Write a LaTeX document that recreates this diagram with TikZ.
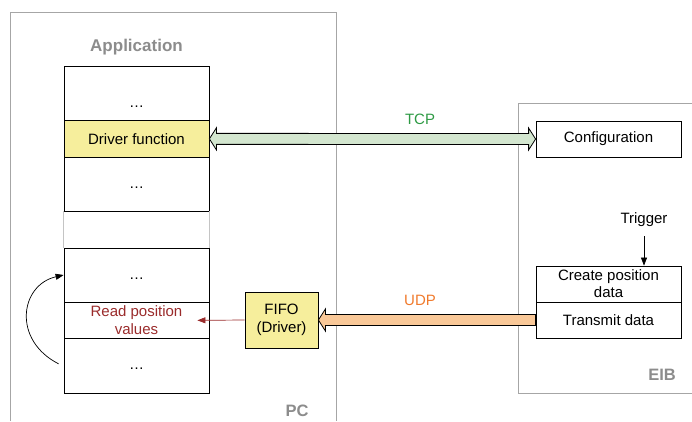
\documentclass[tikz,border=0pt]{standalone}
\usepackage{fontspec}
\setmainfont{Liberation Sans}
\usetikzlibrary{calc,arrows.meta}

\definecolor{framegray}{HTML}{A6A6A6}
\definecolor{labelgray}{HTML}{8C8C8C}
\definecolor{linkgray}{HTML}{C4C4C4}
\definecolor{drvyellow}{HTML}{F6EE9C}
\definecolor{tcpfill}{HTML}{D3E6CF}
\definecolor{tcptext}{HTML}{2E9A44}
\definecolor{udpfill}{HTML}{F9C898}
\definecolor{udptext}{HTML}{F07A2C}
\definecolor{readred}{HTML}{9A2B2B}

\tikzset{
  txt/.style={font=\fontsize{15}{18}\selectfont, inner sep=0pt},
  frame/.style={draw=framegray, line width=1pt},
  framelabel/.style={font=\fontsize{16.5}{18}\selectfont\bfseries, text=labelgray, inner sep=0pt},
  stackrow/.style={draw, line width=0.8pt, minimum width=145pt, inner sep=0pt, align=center,
                   font=\fontsize{15}{18}\selectfont},
  eibrow/.style={stackrow, minimum height=36pt},
  dotsmark/.style={txt, anchor=base},
  fatarrow/.style={draw=black, line width=0.8pt, line join=miter},
  thinarrow/.style={line width=0.7pt, -{Triangle[length=8pt,width=6pt]}},
}

\begin{document}
\begin{tikzpicture}[x=1pt,y=-1pt]
\useasboundingbox (0,0) rectangle (692,421);

% host and board frames (open towards the picture edges)
\draw[frame] (10,421) -- (10,12) -- (336,12) -- (336,421);
\draw[frame] (692,103) -- (518,103) -- (518,393) -- (692,393);
\node[framelabel, font=\fontsize{17}{18}\selectfont\bfseries] (app) at (136.5,47) {Application};
\node[framelabel] (pc) at (297,411) {PC};
\node[framelabel] (eib) at (662,375) {EIB};

% application call stack, upper part
\node[stackrow, minimum height=54pt] (u1) at (136.5,93.7) {};
\node[stackrow, minimum height=36.3pt, fill=drvyellow] (drv) at (136.5,138.85) {Driver function};
\node[stackrow, minimum height=54pt] (u3) at (136.5,184) {};
\node[dotsmark] (u1d) at (136.5,107) {…};
\node[dotsmark] (u3d) at (136.5,188) {…};

% application call stack, lower part
\node[stackrow, minimum height=54pt] (l1) at (136.5,275) {};
\node[stackrow, minimum height=36.7pt, text=readred] (rpv) at (136.5,320.35) {Read position\\values};
\node[stackrow, minimum height=54.3pt] (l3) at (136.5,365.85) {};
\node[dotsmark] (l1d) at (136.5,279) {…};
\node[dotsmark] (l3d) at (136.5,369) {…};

\draw[linkgray, line width=0.8pt] (u3.south west) -- (l1.north west);
\draw[linkgray, line width=0.8pt] (u3.south east) -- (l1.north east);

% driver FIFO
\node[stackrow, minimum width=73pt, minimum height=56pt, fill=drvyellow] (fifo) at (281.5,320) {FIFO\\(Driver)};

% board functions
\node[eibrow] (cfg) at (608.5,139) {Configuration};
\node[eibrow, font=\fontsize{15}{17}\selectfont] (cpd) at (608.5,284) {Create position\\data};
\node[eibrow] (tx) at (608.5,320) {Transmit data};
\node[txt] (trig) at (644,220) {Trigger};

% TCP link: double-headed block arrow
\filldraw[fatarrow, fill=tcpfill]
  (drv.east) -- ($(drv.east)+(7,-11)$) -- ($(drv.east)+(7,-5.5)$)
  -- ($(cfg.west)+(-7,-5.5)$) -- ($(cfg.west)+(-7,-11)$) -- (cfg.west)
  -- ($(cfg.west)+(-7,11)$) -- ($(cfg.west)+(-7,5.5)$)
  -- ($(drv.east)+(7,5.5)$) -- ($(drv.east)+(7,11)$) -- cycle;
\node[txt, text=tcptext] (tcp) at (420,119) {TCP};

% UDP link: block arrow into the FIFO
\filldraw[fatarrow, fill=udpfill]
  (fifo.east) -- ($(fifo.east)+(7,-11)$) -- ($(fifo.east)+(7,-5.5)$)
  -- ($(tx.west)+(0,-5.5)$) -- ($(tx.west)+(0,5.5)$)
  -- ($(fifo.east)+(7,5.5)$) -- ($(fifo.east)+(7,11)$) -- cycle;
\node[txt, text=udptext] (udp) at (420,300) {UDP};

% FIFO read by the application
\coordinate (rpvin) at ($(rpv.east)+(-12,0)$);
\draw[thinarrow, readred] (fifo.west) -- (rpvin);

% trigger into position data creation
\draw[thinarrow] ([yshift=-9pt]trig.south) -- (trig.south |- cpd.north);

% cyclic loop back to the top of the stack
\coordinate (loopstart) at ($(l3.west)+(-5,-2)$);
\draw[line width=0.7pt, -{Triangle[length=8pt,width=6pt]}]
  (loopstart) .. controls (12,340) and (20,285) .. (l1.west);
\end{tikzpicture}
\end{document}
